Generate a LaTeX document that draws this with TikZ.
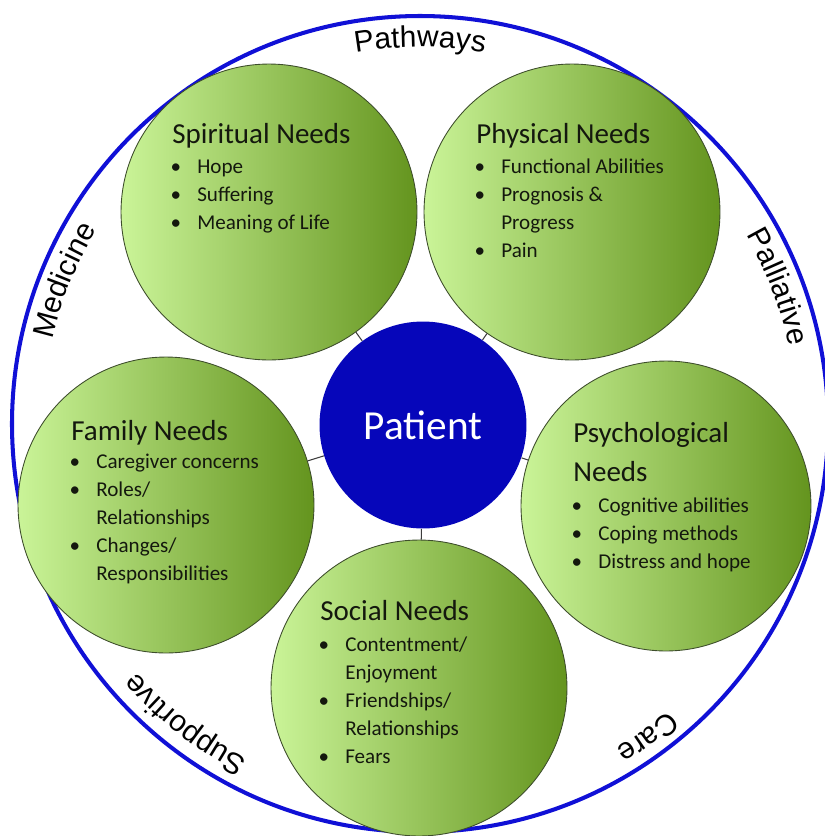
\documentclass[tikz,border=0pt]{standalone}
\usepackage{fontspec}
\usetikzlibrary{decorations.text}

\newfontfamily\needfont{Carlito}
\newfontfamily\ringfont{Liberation Sans}

\definecolor{ringblue}{RGB}{16,16,214}
\definecolor{patientblue}{RGB}{6,6,186}
\definecolor{needlight}{RGB}{202,244,152}
\definecolor{needdark}{RGB}{100,148,30}
\definecolor{neededge}{RGB}{62,78,44}
\definecolor{needtext}{RGB}{20,24,14}
\definecolor{linkgray}{RGB}{60,60,60}

% bullet lists inside the circles
\newcommand\needitem{\makebox[14.2pt][l]{\hspace*{-1pt}\textbullet}}
\newcommand\needcont{\hspace*{14.2pt}}
\newcommand\needlist[1]{\begin{tabular}[t]{@{}l@{}}#1\end{tabular}}

\begin{document}
\begin{tikzpicture}[x=0.02cm, y=-0.02cm,
    need/.style={circle, draw=neededge, line width=0.5pt, left color=needlight,
        right color=needdark, minimum size=5.92cm, inner sep=0pt},
    patient/.style={circle, fill=patientblue, minimum size=4.14cm, inner sep=0pt,
        text=white, font=\needfont\fontsize{23.5}{28}\selectfont},
    link/.style={draw=linkgray, line width=0.6pt},
    needtitle/.style={anchor=base west, inner sep=0pt, text=needtext,
        font=\needfont\fontsize{16.5}{22.7}\selectfont},
    needitems/.style={anchor=base west, inner sep=0pt, text=needtext,
        font=\needfont\fontsize{12}{16}\selectfont},
    ringlabel/.style={decorate, decoration={text along path, text align=center,
        text={|\ringfont\fontsize{17}{20}\selectfont|#1}}}]

    \useasboundingbox (0,0) rectangle (825,836);

    % outer ring and its words
    \draw[ringblue, line width=2.3pt] (420,424) circle[radius=408];
    \begin{scope}[shift={(420,424)}]
        \path[ringlabel=Pathways] (-130:377) arc[start angle=-130, end angle=-50, radius=377];
        \path[ringlabel=Palliative] (-61:377) arc[start angle=-61, end angle=19, radius=377];
        \path[ringlabel=Care] (14:379) arc[start angle=14, end angle=94, radius=379];
        \path[ringlabel=Supportive] (88:377) arc[start angle=88, end angle=168, radius=377];
        \path[ringlabel=Medicine] (-198:377) arc[start angle=-198, end angle=-118, radius=377];
    \end{scope}

    % the five needs
    \node[need] (spirit) at (269,212) {};
    \node[need] (physical) at (572,212) {};
    \node[need] (family) at (166,505) {};
    \node[need, minimum size=5.8cm] (psych) at (666,506) {};
    \node[need] (social) at (419,688) {};

    % patient in the middle
    \node[patient] (patient) at (423,425) {Patient};

    \draw[link] (patient) -- (spirit);
    \draw[link] (patient) -- (physical);
    \draw[link] (patient) -- (family);
    \draw[link] (patient) -- (psych);
    \draw[link] (patient) -- (social);

    % texts
    \node[needtitle] (spirit-title) at (172,143) {Spiritual Needs};
    \node[needitems] (spirit-list) at (172,173) {\needlist{%
        \needitem Hope\\ \needitem Suffering\\ \needitem Meaning of Life}};

    \node[needtitle] (physical-title) at (476,143) {Physical Needs};
    \node[needitems] (physical-list) at (476,173) {\needlist{%
        \needitem Functional Abilities\\ \needitem Prognosis \&\\
        \needcont Progress\\ \needitem Pain}};

    \node[needtitle] (family-title) at (71,440) {Family Needs};
    \node[needitems] (family-list) at (71,468) {\needlist{%
        \needitem Caregiver concerns\\ \needitem Roles/\\ \needcont Relationships\\
        \needitem Changes/\\ \needcont Responsibilities}};

    \node[needtitle] (psych-title) at (573,442) {\needlist{Psychological\\ Needs}};
    \node[needitems] (psych-list) at (573,512) {\needlist{%
        \needitem Cognitive abilities\\ \needitem Coping methods\\
        \needitem Distress and hope}};

    \node[needtitle] (social-title) at (320,620) {Social Needs};
    \node[needitems] (social-list) at (320,651) {\needlist{%
        \needitem Contentment/\\ \needcont Enjoyment\\ \needitem Friendships/\\
        \needcont Relationships\\ \needitem Fears}};
\end{tikzpicture}
\end{document}
